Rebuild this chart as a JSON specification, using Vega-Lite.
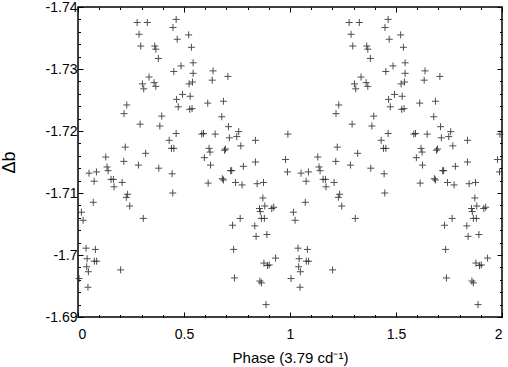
{
  "$schema": "https://vega.github.io/schema/vega-lite/v6.json",
  "width": 424,
  "height": 310,
  "autosize": {"type": "none"},
  "padding": {"left": 78, "top": 7, "right": 6, "bottom": 50},
  "background": "white",
  "config": {
    "view": {"stroke": "black", "strokeWidth": 1.5},
    "font": "Liberation Sans",
    "axis": {"domain": false, "grid": false, "ticks": true, "tickColor": "black", "tickWidth": 1, "labelColor": "black", "titleColor": "black", "labelFont": "Liberation Sans", "titleFont": "Liberation Sans", "labelFontSize": 14, "titleFontWeight": "normal"}
  },
  "data": {"values": [
    {"p":0.279,"m":-1.7375},{"p":0.327,"m":-1.7375},{"p":0.463,"m":-1.738},{"p":0.448,"m":-1.7367},{"p":0.288,"m":-1.7356},
    {"p":0.522,"m":-1.7355},{"p":0.468,"m":-1.7348},{"p":0.296,"m":-1.7337},{"p":0.362,"m":-1.7337},{"p":0.367,"m":-1.7332},
    {"p":0.535,"m":-1.7335},{"p":0.379,"m":-1.7317},{"p":0.543,"m":-1.731},{"p":0.486,"m":-1.7305},{"p":0.452,"m":-1.7296},
    {"p":0.543,"m":-1.7293},{"p":0.637,"m":-1.7297},{"p":0.335,"m":-1.7287},{"p":0.707,"m":-1.7288},{"p":0.524,"m":-1.7276},
    {"p":0.633,"m":-1.7282},{"p":0.304,"m":-1.7276},{"p":0.359,"m":-1.7278},{"p":0.54,"m":-1.7279},{"p":0.31,"m":-1.7268},
    {"p":0.367,"m":-1.7272},{"p":0.493,"m":-1.7259},{"p":0.465,"m":-1.7251},{"p":0.529,"m":-1.7256},{"p":0.23,"m":-1.7242},
    {"p":0.612,"m":-1.7245},{"p":0.686,"m":-1.7248},{"p":0.473,"m":-1.7239},{"p":0.527,"m":-1.7235},{"p":0.538,"m":-1.7236},
    {"p":0.217,"m":-1.7228},{"p":0.395,"m":-1.7224},{"p":0.678,"m":-1.7223},{"p":0.293,"m":-1.7211},{"p":0.386,"m":-1.7208},
    {"p":0.71,"m":-1.7207},{"p":0.463,"m":-1.7196},{"p":0.584,"m":-1.7195},{"p":0.592,"m":-1.7196},{"p":0.647,"m":-1.7195},
    {"p":0.758,"m":-1.7199},{"p":0.749,"m":-1.7191},{"p":0.714,"m":-1.7189},{"p":0.837,"m":-1.7185},{"p":0.43,"m":-1.7185},
    {"p":0.441,"m":-1.7172},{"p":0.452,"m":-1.7172},{"p":0.768,"m":-1.7176},{"p":0.618,"m":-1.7172},{"p":0.623,"m":-1.7166},
    {"p":0.696,"m":-1.7171},{"p":0.691,"m":-1.7169},{"p":0.223,"m":-1.7174},{"p":0.319,"m":-1.7164},{"p":0.131,"m":-1.7158},
    {"p":0.596,"m":-1.7157},{"p":0.216,"m":-1.7151},{"p":0.625,"m":-1.7145},{"p":0.837,"m":-1.715},{"p":0.137,"m":-1.7142},
    {"p":0.285,"m":-1.7145},{"p":0.381,"m":-1.714},{"p":0.78,"m":-1.7143},{"p":0.142,"m":-1.7136},{"p":0.052,"m":-1.7132},
    {"p":0.087,"m":-1.7134},{"p":0.444,"m":-1.7131},{"p":0.725,"m":-1.7136},{"p":0.72,"m":-1.7136},{"p":0.156,"m":-1.7122},
    {"p":0.167,"m":-1.7122},{"p":0.076,"m":-1.7119},{"p":0.681,"m":-1.7123},{"p":0.686,"m":-1.7121},{"p":0.208,"m":-1.7117},
    {"p":0.17,"m":-1.711},{"p":0.614,"m":-1.7116},{"p":0.743,"m":-1.7117},{"p":0.774,"m":-1.7113},{"p":0.845,"m":-1.7115},
    {"p":0.875,"m":-1.7117},{"p":0.447,"m":-1.71},{"p":0.234,"m":-1.7098},{"p":0.228,"m":-1.7093},{"p":0.072,"m":-1.7085},
    {"p":0.872,"m":-1.7092},{"p":0.244,"m":-1.7079},{"p":0.856,"m":-1.7075},{"p":0.881,"m":-1.7079},{"p":0.914,"m":-1.7075},
    {"p":0.923,"m":-1.7077},{"p":0.86,"m":-1.707},{"p":0.016,"m":-1.7069},{"p":0.308,"m":-1.7059},{"p":0.024,"m":-1.7056},
    {"p":0.865,"m":-1.7059},{"p":0.879,"m":-1.7059},{"p":0.765,"m":-1.7059},{"p":0.729,"m":-1.7048},{"p":0.834,"m":-1.7047},
    {"p":0.84,"m":-1.703},{"p":0.891,"m":-1.7033},{"p":0.734,"m":-1.7009},{"p":0.038,"m":-1.7011},{"p":0.082,"m":-1.7009},
    {"p":0.043,"m":-1.6994},{"p":0.077,"m":-1.699},{"p":0.088,"m":-1.699},{"p":0.932,"m":-1.6995},{"p":0.877,"m":-1.6987},
    {"p":0.902,"m":-1.6984},{"p":0.041,"m":-1.6981},{"p":0.049,"m":-1.6973},{"p":0.201,"m":-1.6976},{"p":0.894,"m":-1.6983},
    {"p":0.005,"m":-1.6962},{"p":0.738,"m":-1.6963},{"p":0.858,"m":-1.6958},{"p":0.865,"m":-1.6955},{"p":0.047,"m":-1.6948},
    {"p":0.887,"m":-1.692},{"p":0.99,"m":-1.7195},{"p":0.979,"m":-1.7154},{"p":0.988,"m":-1.7134},
    {"p":1.279,"m":-1.7375},{"p":1.327,"m":-1.7375},{"p":1.463,"m":-1.738},{"p":1.448,"m":-1.7367},{"p":1.288,"m":-1.7356},
    {"p":1.522,"m":-1.7355},{"p":1.468,"m":-1.7348},{"p":1.296,"m":-1.7337},{"p":1.362,"m":-1.7337},{"p":1.367,"m":-1.7332},
    {"p":1.535,"m":-1.7335},{"p":1.379,"m":-1.7317},{"p":1.543,"m":-1.731},{"p":1.486,"m":-1.7305},{"p":1.452,"m":-1.7296},
    {"p":1.543,"m":-1.7293},{"p":1.637,"m":-1.7297},{"p":1.335,"m":-1.7287},{"p":1.707,"m":-1.7288},{"p":1.524,"m":-1.7276},
    {"p":1.633,"m":-1.7282},{"p":1.304,"m":-1.7276},{"p":1.359,"m":-1.7278},{"p":1.54,"m":-1.7279},{"p":1.31,"m":-1.7268},
    {"p":1.367,"m":-1.7272},{"p":1.493,"m":-1.7259},{"p":1.465,"m":-1.7251},{"p":1.529,"m":-1.7256},{"p":1.23,"m":-1.7242},
    {"p":1.612,"m":-1.7245},{"p":1.686,"m":-1.7248},{"p":1.473,"m":-1.7239},{"p":1.527,"m":-1.7235},{"p":1.538,"m":-1.7236},
    {"p":1.217,"m":-1.7228},{"p":1.395,"m":-1.7224},{"p":1.678,"m":-1.7223},{"p":1.293,"m":-1.7211},{"p":1.386,"m":-1.7208},
    {"p":1.71,"m":-1.7207},{"p":1.463,"m":-1.7196},{"p":1.584,"m":-1.7195},{"p":1.592,"m":-1.7196},{"p":1.647,"m":-1.7195},
    {"p":1.758,"m":-1.7199},{"p":1.749,"m":-1.7191},{"p":1.714,"m":-1.7189},{"p":1.837,"m":-1.7185},{"p":1.43,"m":-1.7185},
    {"p":1.441,"m":-1.7172},{"p":1.452,"m":-1.7172},{"p":1.768,"m":-1.7176},{"p":1.618,"m":-1.7172},{"p":1.623,"m":-1.7166},
    {"p":1.696,"m":-1.7171},{"p":1.691,"m":-1.7169},{"p":1.223,"m":-1.7174},{"p":1.319,"m":-1.7164},{"p":1.131,"m":-1.7158},
    {"p":1.596,"m":-1.7157},{"p":1.216,"m":-1.7151},{"p":1.625,"m":-1.7145},{"p":1.837,"m":-1.715},{"p":1.137,"m":-1.7142},
    {"p":1.285,"m":-1.7145},{"p":1.381,"m":-1.714},{"p":1.78,"m":-1.7143},{"p":1.142,"m":-1.7136},{"p":1.052,"m":-1.7132},
    {"p":1.087,"m":-1.7134},{"p":1.444,"m":-1.7131},{"p":1.725,"m":-1.7136},{"p":1.72,"m":-1.7136},{"p":1.156,"m":-1.7122},
    {"p":1.167,"m":-1.7122},{"p":1.076,"m":-1.7119},{"p":1.681,"m":-1.7123},{"p":1.686,"m":-1.7121},{"p":1.208,"m":-1.7117},
    {"p":1.17,"m":-1.711},{"p":1.614,"m":-1.7116},{"p":1.743,"m":-1.7117},{"p":1.774,"m":-1.7113},{"p":1.845,"m":-1.7115},
    {"p":1.875,"m":-1.7117},{"p":1.447,"m":-1.71},{"p":1.234,"m":-1.7098},{"p":1.228,"m":-1.7093},{"p":1.072,"m":-1.7085},
    {"p":1.872,"m":-1.7092},{"p":1.244,"m":-1.7079},{"p":1.856,"m":-1.7075},{"p":1.881,"m":-1.7079},{"p":1.914,"m":-1.7075},
    {"p":1.923,"m":-1.7077},{"p":1.86,"m":-1.707},{"p":1.016,"m":-1.7069},{"p":1.308,"m":-1.7059},{"p":1.024,"m":-1.7056},
    {"p":1.865,"m":-1.7059},{"p":1.879,"m":-1.7059},{"p":1.765,"m":-1.7059},{"p":1.729,"m":-1.7048},{"p":1.834,"m":-1.7047},
    {"p":1.84,"m":-1.703},{"p":1.891,"m":-1.7033},{"p":1.734,"m":-1.7009},{"p":1.038,"m":-1.7011},{"p":1.082,"m":-1.7009},
    {"p":1.043,"m":-1.6994},{"p":1.077,"m":-1.699},{"p":1.088,"m":-1.699},{"p":1.932,"m":-1.6995},{"p":1.877,"m":-1.6987},
    {"p":1.902,"m":-1.6984},{"p":1.041,"m":-1.6981},{"p":1.049,"m":-1.6973},{"p":1.201,"m":-1.6976},{"p":1.894,"m":-1.6983},
    {"p":1.005,"m":-1.6962},{"p":1.738,"m":-1.6963},{"p":1.858,"m":-1.6958},{"p":1.865,"m":-1.6955},{"p":1.047,"m":-1.6948},
    {"p":1.887,"m":-1.692},{"p":1.99,"m":-1.7195},{"p":1.979,"m":-1.7154},{"p":1.988,"m":-1.7134}
  ]},
  "layer": [
    {
      "mark": {"type": "point", "shape": "M-1,0H1M0,-1V1", "filled": false, "stroke": "#222222", "strokeWidth": 1, "size": 49, "opacity": 0.8},
      "encoding": {
        "x": {"field": "p", "type": "quantitative", "scale": {"domain": [0, 2], "nice": false, "zero": false},
          "axis": {"orient": "bottom", "values": [0, 0.5, 1, 1.5, 2], "tickSize": -5, "labelPadding": 15, "labelExpr": "toString(datum.value)", "title": "Phase (3.79 cd⁻¹)", "titleFontSize": 15, "titlePadding": 9}},
        "y": {"field": "m", "type": "quantitative", "scale": {"domain": [-1.74, -1.69], "nice": false, "zero": false, "reverse": true},
          "axis": {"orient": "left", "values": [-1.74, -1.73, -1.72, -1.71, -1.7, -1.69], "tickSize": -5, "labelPadding": 6, "labelExpr": "toString(datum.value)", "title": "Δb", "titleFontSize": 18, "titlePadding": 27}}
      }
    },
    {
      "mark": {"type": "point", "opacity": 0},
      "encoding": {
        "x": {"field": "p", "type": "quantitative", "axis": {"orient": "top", "values": [0, 0.5, 1, 1.5, 2], "tickSize": -5, "labels": false, "title": null}},
        "y": {"field": "m", "type": "quantitative", "axis": {"orient": "right", "values": [-1.74, -1.73, -1.72, -1.71, -1.7, -1.69], "tickSize": -5, "labels": false, "title": null}}
      }
    },
    {
      "mark": {"type": "point", "opacity": 0},
      "encoding": {
        "x": {"field": "p", "type": "quantitative", "axis": {"orient": "bottom", "values": [0.1, 0.2, 0.3, 0.4, 0.6, 0.7, 0.8, 0.9, 1.1, 1.2, 1.3, 1.4, 1.6, 1.7, 1.8, 1.9], "tickSize": -2.5, "labels": false, "title": null}},
        "y": {"field": "m", "type": "quantitative", "axis": {"orient": "left", "values": [-1.738, -1.736, -1.734, -1.732, -1.728, -1.726, -1.724, -1.722, -1.718, -1.716, -1.714, -1.712, -1.708, -1.706, -1.704, -1.702, -1.698, -1.696, -1.694, -1.692], "tickSize": -2.5, "labels": false, "title": null}}
      }
    },
    {
      "mark": {"type": "point", "opacity": 0},
      "encoding": {
        "x": {"field": "p", "type": "quantitative", "axis": {"orient": "top", "values": [0.1, 0.2, 0.3, 0.4, 0.6, 0.7, 0.8, 0.9, 1.1, 1.2, 1.3, 1.4, 1.6, 1.7, 1.8, 1.9], "tickSize": -2.5, "labels": false, "title": null}},
        "y": {"field": "m", "type": "quantitative", "axis": {"orient": "right", "values": [-1.738, -1.736, -1.734, -1.732, -1.728, -1.726, -1.724, -1.722, -1.718, -1.716, -1.714, -1.712, -1.708, -1.706, -1.704, -1.702, -1.698, -1.696, -1.694, -1.692], "tickSize": -2.5, "labels": false, "title": null}}
      }
    }
  ],
  "resolve": {"axis": {"x": "independent", "y": "independent"}}
}
